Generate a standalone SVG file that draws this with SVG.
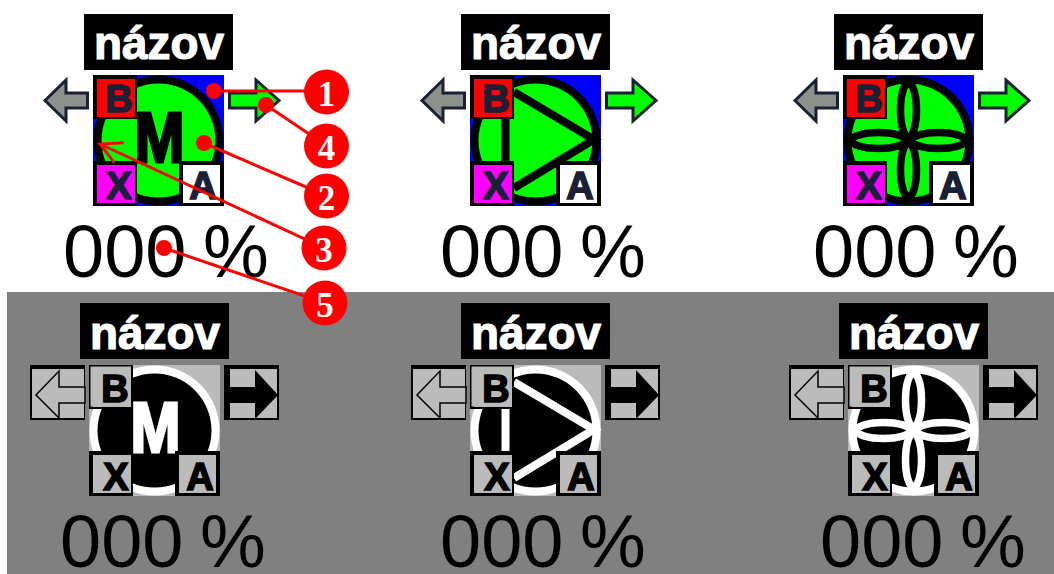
<svg xmlns="http://www.w3.org/2000/svg" width="1054" height="574" viewBox="0 0 1054 574">
<style>
text{font-family:"Liberation Sans",Arial,sans-serif}
.title{font-size:46px;font-weight:bold;fill:#fff;stroke:#fff;stroke-width:1.2px;text-anchor:middle}
.pct{font-size:74px;fill:#000;word-spacing:-4px}
.key{font-size:38px;font-weight:bold;text-anchor:middle;stroke-width:1.6px}
.live{--bg:#0000ff;--line:#000;--face:#00ff00;--b:#ff0000;--x:#ff00ff;--a:#fff}
.live .key{fill:#1a2035;stroke:#1a2035}
.dim{--bg:#bbb;--line:#fff;--face:#000;--b:#bbb;--x:#bbb;--a:#bbb}
.dim .key{fill:#000;stroke:#000}
.motor{font-size:70px;font-weight:bold;text-anchor:middle;stroke-width:3px}
.live .motor{fill:#000;stroke:#000}
.dim .motor{fill:#fff;stroke:#fff}
.lead{stroke:#ff0000;stroke-width:3;fill:none}
.dot{fill:#ff0000}
.badge circle{fill:#ff0000}
.badge text{font-family:"Liberation Serif","Times New Roman",serif;font-size:35px;font-weight:bold;fill:#fff;text-anchor:middle}
</style>
<defs>
<g id="titlebox"><rect x="-9" y="-61" width="149" height="56" fill="#000"/></g>
<g id="dial">
<rect width="131" height="131" fill="var(--bg)"/>
<circle cx="65.5" cy="65.5" r="65" fill="var(--line)"/>
<circle cx="65.5" cy="65.5" r="57" fill="var(--face)"/>
</g>
<g id="boxes">
<rect x="0" y="0" width="44" height="44" fill="#000"/>
<rect x="4" y="4" width="38" height="38" fill="var(--b)"/>
<rect x="0" y="86" width="44" height="45" fill="#000"/>
<rect x="4" y="90" width="38" height="38" fill="var(--x)"/>
<rect x="86" y="86" width="45" height="45" fill="#000"/>
<rect x="90" y="90" width="37" height="38" fill="var(--a)"/>
</g>
<rect id="bfull" x="1.500" y="1.500" width="40.500" height="40" fill="#bbb"/>
<g id="pump" fill="none" stroke="var(--line)" stroke-width="8">
<path d="M35.500 40V92"/>
<path d="M44 17L124 64.500L44 113"/>
</g>
<g id="fan" fill="var(--face)" stroke="var(--line)" stroke-width="7.500">
<ellipse cx="65.500" cy="35" rx="8" ry="27"/>
<ellipse cx="65.500" cy="95" rx="8" ry="27"/>
<ellipse cx="35.500" cy="65.500" rx="27" ry="8"/>
<ellipse cx="95.500" cy="65.500" rx="27" ry="8"/>
</g>
<g id="arrows-live" stroke="#1a2035" stroke-width="3" stroke-linejoin="miter">
<polygon points="-48,25.500 -27,5 -27,18 -5.500,18 -5.500,33 -27,33 -27,46" fill="#8c918c"/>
<polygon points="136.500,18 163,18 163,5 186,25.500 163,46 163,33 136.500,33" fill="#00ff00"/>
</g>
<g id="arrows-dim">
<rect x="-59" y="0" width="55" height="55" fill="#000"/>
<rect x="-57" y="4" width="52" height="49" fill="#bbb"/>
<polygon points="-53,30 -30,6 -30,22 -4,22 -4,38 -30,38 -30,53" fill="#bbb" stroke="#000" stroke-width="1.500"/>
<rect x="135" y="0" width="55" height="55" fill="#000"/>
<rect x="141" y="4" width="47" height="49" fill="#bbb"/>
<polygon points="135,22 166,22 166,5 189,30 166,54 166,38 135,38" fill="#000"/>
</g>
<marker id="open" markerUnits="userSpaceOnUse" markerWidth="30" markerHeight="30" refX="24" refY="15" orient="auto" viewBox="0 0 30 30">
<path d="M3 4L24 15L3 26" fill="none" stroke="#ff0000" stroke-width="3"/>
</marker>
</defs>
<rect width="1054" height="574" fill="#fff"/>
<rect id="panel" x="7" y="292" width="1047" height="282" fill="#808080"/>

<g id="motor-on" class="live" transform="translate(93 75)">
<use href="#titlebox"/><text class="title" x="66" y="-16" textLength="130" lengthAdjust="spacingAndGlyphs">názov</text>
<use href="#arrows-live"/><use href="#dial"/>
<text class="motor" x="66.500" y="87" textLength="50" lengthAdjust="spacingAndGlyphs">M</text>
<use href="#boxes"/>
<text class="key" x="26" y="37">B</text><text class="key" x="26" y="124">X</text><text class="key" x="110" y="124">A</text>
<text class="pct" x="-30" y="202">000 %</text>
</g>
<g id="pump-on" class="live" transform="translate(470 75)">
<use href="#titlebox"/><text class="title" x="66" y="-16" textLength="130" lengthAdjust="spacingAndGlyphs">názov</text>
<use href="#arrows-live"/><use href="#dial"/><use href="#pump"/>
<use href="#boxes"/>
<text class="key" x="26" y="37">B</text><text class="key" x="26" y="124">X</text><text class="key" x="110" y="124">A</text>
<text class="pct" x="-30" y="202">000 %</text>
</g>
<g id="fan-on" class="live" transform="translate(843 75)">
<use href="#titlebox"/><text class="title" x="66" y="-16" textLength="130" lengthAdjust="spacingAndGlyphs">názov</text>
<use href="#arrows-live"/><use href="#dial"/><use href="#fan"/>
<use href="#boxes"/>
<text class="key" x="26" y="37">B</text><text class="key" x="26" y="124">X</text><text class="key" x="110" y="124">A</text>
<text class="pct" x="-30" y="202">000 %</text>
</g>

<g id="motor-off" class="dim" transform="translate(89 365)">
<use href="#titlebox" y="-1"/><text class="title" x="66" y="-16" textLength="130" lengthAdjust="spacingAndGlyphs">názov</text>
<use href="#arrows-dim"/><use href="#dial"/>
<text class="motor" x="66.500" y="87" textLength="50" lengthAdjust="spacingAndGlyphs">M</text>
<use href="#boxes"/><use href="#bfull"/>
<text class="key" x="26" y="37">B</text><text class="key" x="27" y="125">X</text><text class="key" x="111" y="125">A</text>
<text class="pct" x="-29" y="202">000 %</text>
</g>
<g id="pump-off" class="dim" transform="translate(470 365)">
<use href="#titlebox" y="-1"/><text class="title" x="66" y="-16" textLength="130" lengthAdjust="spacingAndGlyphs">názov</text>
<use href="#arrows-dim"/><use href="#dial"/><use href="#pump"/>
<use href="#boxes"/><use href="#bfull"/>
<text class="key" x="26" y="37">B</text><text class="key" x="27" y="125">X</text><text class="key" x="111" y="125">A</text>
<text class="pct" x="-30" y="202">000 %</text>
</g>
<g id="fan-off" class="dim" transform="translate(848 365)">
<use href="#titlebox" y="-1"/><text class="title" x="66" y="-16" textLength="130" lengthAdjust="spacingAndGlyphs">názov</text>
<use href="#arrows-dim"/><use href="#dial"/><use href="#fan"/>
<use href="#boxes"/><use href="#bfull"/>
<text class="key" x="26" y="37">B</text><text class="key" x="27" y="125">X</text><text class="key" x="111" y="125">A</text>
<text class="pct" x="-28" y="202">000 %</text>
</g>

<g id="connectors">
<path class="lead" d="M214 91H327"/><circle class="dot" cx="214" cy="91" r="8"/>
<path class="lead" d="M204 143L327 196"/><circle class="dot" cx="204" cy="143" r="8"/>
<path class="lead" d="M324 248L100 144" marker-end="url(#open)"/>
<path class="lead" d="M266 105L327 146"/><circle class="dot" cx="266" cy="105" r="8"/>
<path class="lead" d="M164 248L325 303"/><circle class="dot" cx="164" cy="248" r="8"/>
</g>
<g id="callout-1" class="badge"><circle cx="326.500" cy="92" r="22.500"/><text x="326.500" y="106">1</text></g>
<g id="callout-4" class="badge"><circle cx="326.500" cy="146" r="22.500"/><text x="326.500" y="160">4</text></g>
<g id="callout-2" class="badge"><circle cx="326.500" cy="196" r="22.500"/><text x="326.500" y="210">2</text></g>
<g id="callout-3" class="badge"><circle cx="324" cy="248" r="22.500"/><text x="324" y="262">3</text></g>
<g id="callout-5" class="badge"><circle cx="325" cy="303" r="22.500"/><text x="325" y="317">5</text></g>
</svg>
